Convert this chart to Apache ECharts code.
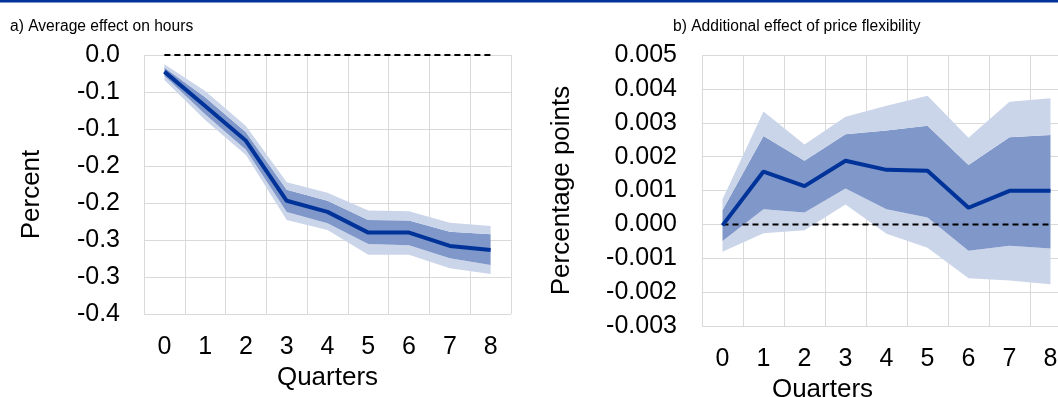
<!DOCTYPE html>
<html>
<head>
<meta charset="utf-8">
<script src="https://cdn.jsdelivr.net/npm/echarts@6/dist/echarts.min.js"></script>
<style>
  html, body { margin: 0; padding: 0; background: #fff; }
  #chart { width: 1058px; height: 397px; }
</style>
</head>
<body>
<div id="chart"></div>
<script>
var quarters = ['0', '1', '2', '3', '4', '5', '6', '7', '8'];

// a) average effect on hours (percent)
var hoursMean    = [-0.0225, -0.069, -0.116, -0.197, -0.212, -0.240, -0.240, -0.258, -0.2635];
var hoursInnerHi = [-0.017, -0.057, -0.1045, -0.182, -0.197, -0.223, -0.2236, -0.2387, -0.2423];
var hoursInnerLo = [-0.028, -0.080, -0.128, -0.212, -0.2275, -0.2554, -0.257, -0.2748, -0.2838];
var hoursOuterHi = [-0.0126, -0.0486, -0.096, -0.172, -0.186, -0.210, -0.211, -0.2266, -0.231];
var hoursOuterLo = [-0.0338, -0.0878, -0.135, -0.223, -0.2365, -0.270, -0.270, -0.2883, -0.296];
var hoursTickLabels = ['0.0', '-0.1', '-0.1', '-0.2', '-0.2', '-0.3', '-0.3', '-0.4'];

// b) additional effect of price flexibility (percentage points)
var flexMean    = [-0.00003, 0.00156, 0.00113, 0.00188, 0.00161, 0.00158, 0.00049, 0.00099, 0.00099];
var flexInnerHi = [0.00042, 0.00261, 0.00188, 0.00266, 0.00277, 0.00291, 0.00175, 0.00257, 0.00264];
var flexInnerLo = [-0.00049, 0.00045, 0.00035, 0.00106, 0.00045, 0.00020, -0.00078, -0.00063, -0.00071];
var flexOuterHi = [0.00074, 0.00333, 0.00236, 0.00318, 0.00350, 0.00380, 0.00256, 0.00362, 0.00372];
var flexOuterLo = [-0.00081, -0.00026, -0.00017, 0.00059, -0.00028, -0.00069, -0.00159, -0.00166, -0.00177];

var navy = '#003399';
var light = '#cbd5ea';
var dark = '#7f97c9';
var gridCol = '#d9d9d9';
var font = 'Liberation Sans, Arial, sans-serif';

function diff(a, b) {
  return a.map(function (v, i) { return v - b[i]; });
}

// stacked bands: transparent base, light, dark, light
function bandSeries(idx, oLo, iLo, iHi, oHi) {
  var stack = 'band' + idx;
  var common = {
    type: 'line', xAxisIndex: idx, yAxisIndex: idx, stack: stack, stackStrategy: 'all',
    symbol: 'none', silent: true, lineStyle: { width: 0 }
  };
  return [
    Object.assign({}, common, { data: oLo }),
    Object.assign({}, common, { data: diff(iLo, oLo), areaStyle: { color: light, opacity: 1 } }),
    Object.assign({}, common, { data: diff(iHi, iLo), areaStyle: { color: dark, opacity: 1 } }),
    Object.assign({}, common, { data: diff(oHi, iHi), areaStyle: { color: light, opacity: 1 } })
  ];
}

function zeroLine(idx) {
  return {
    type: 'line', xAxisIndex: idx, yAxisIndex: idx, symbol: 'none', clip: false,
    data: quarters.map(function () { return 0; }),
    lineStyle: { color: '#000', width: 2, type: [6, 4] }
  };
}

function meanLine(idx, data) {
  return {
    type: 'line', xAxisIndex: idx, yAxisIndex: idx, symbol: 'none', data: data,
    lineStyle: { color: navy, width: 4 }
  };
}

function xAxis(idx, gap, pad) {
  return {
    type: 'category', gridIndex: idx, data: quarters, boundaryGap: true,
    axisLine: { show: false }, axisTick: { show: false },
    axisLabel: { color: '#000', fontSize: 25, fontFamily: font, margin: 21, interval: 0 },
    splitLine: { show: true, interval: 0, lineStyle: { color: gridCol, width: 1 } },
    name: 'Quarters', nameLocation: 'middle', nameGap: gap,
    nameTextStyle: { color: '#000', fontSize: 26, fontFamily: font, padding: pad }
  };
}

var chart = echarts.init(document.getElementById('chart'));

var option = {
  animation: false,
  backgroundColor: '#fff',
  graphic: [
    { type: 'rect', shape: { x: 0, y: 0, width: 1058, height: 2.5 }, style: { fill: navy } },
    { type: 'text', left: 10, top: 19, style: { text: 'a) Average effect on hours', fontSize: 15.6, fontFamily: font, fill: '#000' } },
    { type: 'text', left: 673, top: 19, style: { text: 'b) Additional effect of price flexibility', fontSize: 15.6, fontFamily: font, fill: '#000' } }
  ],
  grid: [
    { left: 144, top: 55, width: 367, height: 259, outerBoundsMode: 'none' },
    { left: 702, top: 55, width: 369, height: 271, outerBoundsMode: 'none' }
  ],
  xAxis: [xAxis(0, 48, 0), xAxis(1, 44, [0, 128, 0, 0])],
  yAxis: [
    {
      type: 'value', gridIndex: 0, min: -0.35, max: 0, interval: 0.05,
      axisLine: { show: false }, axisTick: { show: false },
      axisLabel: {
        color: '#000', fontSize: 25, fontFamily: font, margin: 24,
        formatter: function (v) { return hoursTickLabels[Math.round(-v / 0.05)]; }
      },
      splitLine: { lineStyle: { color: gridCol, width: 1 } },
      name: 'Percent', nameLocation: 'middle', nameGap: 99, nameRotate: 90,
      nameTextStyle: { color: '#000', fontSize: 26, fontFamily: font, padding: [0, 20, 0, 0] }
    },
    {
      type: 'value', gridIndex: 1, min: -0.003, max: 0.005, interval: 0.001,
      axisLine: { show: false }, axisTick: { show: false },
      axisLabel: {
        color: '#000', fontSize: 25, fontFamily: font, margin: 25,
        formatter: function (v) { return v.toFixed(3); }
      },
      splitLine: { lineStyle: { color: gridCol, width: 1 } },
      name: 'Percentage points', nameLocation: 'middle', nameGap: 127, nameRotate: 90,
      nameTextStyle: { color: '#000', fontSize: 26, fontFamily: font }
    }
  ],
  series: []
    .concat(bandSeries(0, hoursOuterLo, hoursInnerLo, hoursInnerHi, hoursOuterHi))
    .concat([zeroLine(0), meanLine(0, hoursMean)])
    .concat(bandSeries(1, flexOuterLo, flexInnerLo, flexInnerHi, flexOuterHi))
    .concat([zeroLine(1), meanLine(1, flexMean)])
};

chart.setOption(option);
</script>
</body>
</html>
